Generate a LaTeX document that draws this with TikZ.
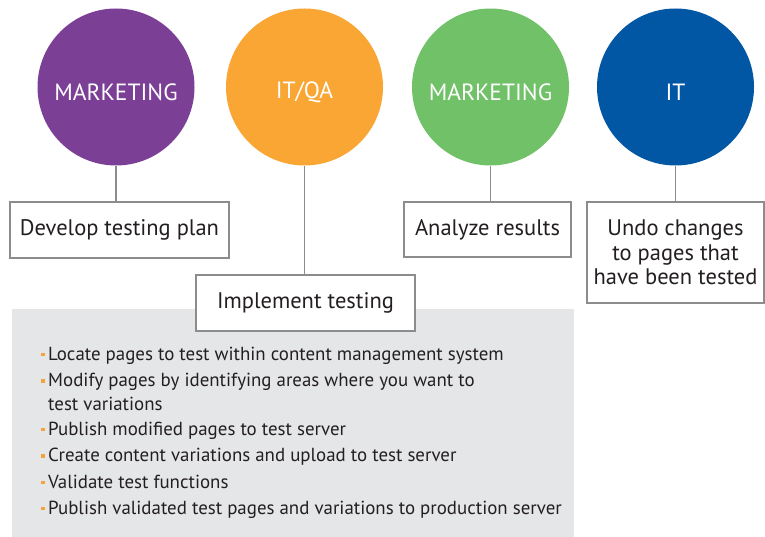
\documentclass[tikz,border=0pt]{standalone}
\usepackage{fontspec}
\setmainfont{PT Sans}
\begin{document}
\definecolor{mkpurple}{HTML}{7B3F96}
\definecolor{qaorange}{HTML}{F9A634}
\definecolor{mkgreen}{HTML}{70C168}
\definecolor{itblue}{HTML}{0257A5}
\definecolor{linkgray}{HTML}{8C8C8C}
\definecolor{panelgray}{HTML}{E5E6E8}
\definecolor{bulorange}{HTML}{F7A23B}
\definecolor{inktext}{HTML}{231F20}
\newcommand{\bul}{\makebox[7pt][l]{\textcolor{bulorange}{\rule[0.2em]{3.4pt}{3.4pt}}}}
\begin{tikzpicture}[x=1pt,y=-1pt,
  role/.style={circle,minimum size=157pt,inner sep=0pt,text=white,
    font=\fontsize{23.5}{28}\selectfont},
  task/.style={draw=linkgray,line width=1.2pt,fill=white,inner sep=0pt,
    text=inktext,align=center,font=\fontsize{22.5}{24.5}\selectfont},
  link/.style={draw=linkgray,line width=1.3pt},
  item/.style={anchor=base west,inner sep=0pt,text=inktext,
    font=\fontsize{18.9}{22}\selectfont}]
\useasboundingbox (0,0) rectangle (765,537);

% role circles
\node[role,fill=mkpurple] (c1) at (116,87) {};
\node[role,fill=qaorange] (c2) at (304.5,87) {};
\node[role,fill=mkgreen]  (c3) at (490.5,87) {};
\node[role,fill=itblue]   (c4) at (675.5,87) {};
\node[role] (t1) at (116,92) {MARKETING};
\node[role] (t2) at (304.5,92) {IT/QA};
\node[role] (t3) at (490.5,92) {MARKETING};
\node[role] (t4) at (675.5,92) {IT};

% activity panel
\node[fill=panelgray,inner sep=0pt,minimum width=562pt,minimum height=228pt,
  anchor=north west] (panel) at (12,309) {};

% task boxes
\node[task,minimum width=219pt,minimum height=56pt] (b1) at (119.5,230) {Develop testing plan};
\node[task,minimum width=219pt,minimum height=56pt] (b2) at (305.5,303) {Implement testing};
\node[task,minimum width=167pt,minimum height=55pt] (b3) at (487.5,229.5) {Analyze results};
\node[task,minimum width=177pt,minimum height=101pt] (b4) at (675.5,252.5)
  {Undo changes\\to pages that\\have been tested};

% connectors
\draw[link] (c1.south) -- (c1.south |- b1.north);
\draw[link] (c2.south) -- (c2.south |- b2.north);
\draw[link] (c3.south) -- (c3.south |- b3.north);
\draw[link] (c4.south) -- (c4.south |- b4.north);

% implementation steps
\node[item] (l1) at (41,360) {\bul Locate pages to test within content management system};
\node[item] (l2) at (41,386.5) {\bul Modify pages by identifying areas where you want to};
\node[item] (l3) at (41,410) {\hspace*{7pt}test variations};
\node[item] (l4) at (41,435) {\bul Publish modified pages to test server};
\node[item] (l5) at (41,461.5) {\bul Create content variations and upload to test server};
\node[item] (l6) at (41,488) {\bul Validate test functions};
\node[item] (l7) at (41,514) {\bul Publish validated test pages and variations to production server};
\end{tikzpicture}
\end{document}
